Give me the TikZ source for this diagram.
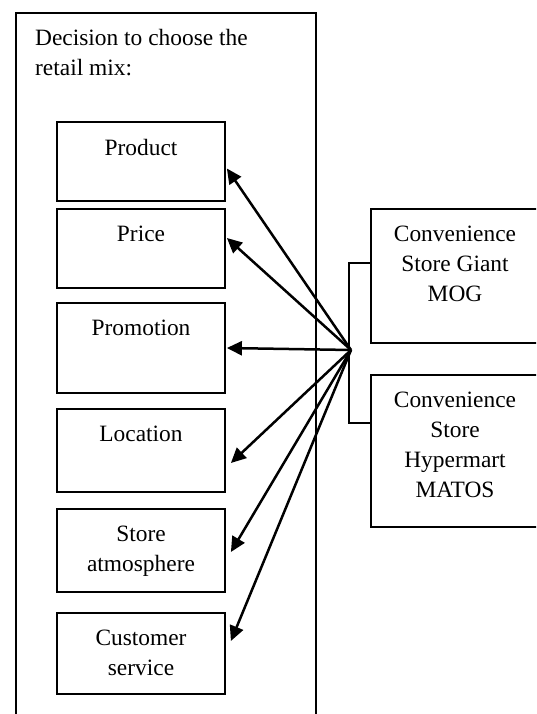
\documentclass[tikz,border=0pt]{standalone}
\usepackage{fontspec}
\setmainfont{Liberation Serif}
\usetikzlibrary{arrows.meta}

\begin{document}
\begin{tikzpicture}[
    x=1pt, y=-1pt,
    box/.style={rectangle, draw=black, line width=1.8pt, minimum width=168pt, inner sep=0pt},
    txt/.style={font=\fontsize{23.4}{30}\selectfont, align=center, inner sep=0pt},
    inlabel/.style={label={[txt, anchor=north, yshift=-18pt]north:#1}},
    arrow/.style={-{Triangle[length=15pt, width=14pt]}, line width=2.5pt}
]
\clip (0,0) rectangle (536,714);

% Frame
\node[box, minimum width=300pt, minimum height=740pt, anchor=north west] (mix) at (15,12) {};
\node[txt, align=left, anchor=north west] (title) at (35,29) {Decision to choose the\\retail mix:};

% Nodes
\node[box, minimum height=79pt, inlabel={Product}] (product) at (141,161.5) {};
\node[box, minimum height=79pt, inlabel={Price}] (price) at (141,248.5) {};
\node[box, minimum height=90pt, inlabel={Promotion}] (promotion) at (141,348) {};
\node[box, minimum height=83pt, inlabel={Location}] (location) at (141,450.5) {};
\node[box, minimum height=83pt, inlabel={Store\\atmosphere}] (atmosphere) at (141,550.5) {};
\node[box, minimum height=81pt, inlabel={Customer\\service}] (service) at (141,653.5) {};

\node[box, minimum height=134pt, inlabel={Convenience\\Store Giant\\MOG}] (mog) at (455,276) {};
\node[box, minimum height=152pt, inlabel={Convenience\\Store\\Hypermart\\MATOS}] (matos) at (455,451) {};

% Bracket
\draw[line width=1.6pt] ([yshift=13pt]mog.west) -- ++(-21,0) |- ([yshift=28pt]matos.west);
\coordinate (hub) at (351,350);

% Arrows
\draw[arrow] (hub) -- ([xshift=1pt,yshift=-7pt]product.east);
\draw[arrow] (hub) -- ([xshift=1pt,yshift=10.5pt]price.east);
\draw[arrow] (hub) -- ([xshift=1pt]promotion.east);
\draw[arrow] (hub) -- ([xshift=5pt,yshift=-12.5pt]location.east);
\draw[arrow] (hub) -- ([xshift=5pt,yshift=-1.5pt]atmosphere.east);
\draw[arrow] (hub) -- ([xshift=5pt,yshift=12.5pt]service.east);

\end{tikzpicture}
\end{document}
